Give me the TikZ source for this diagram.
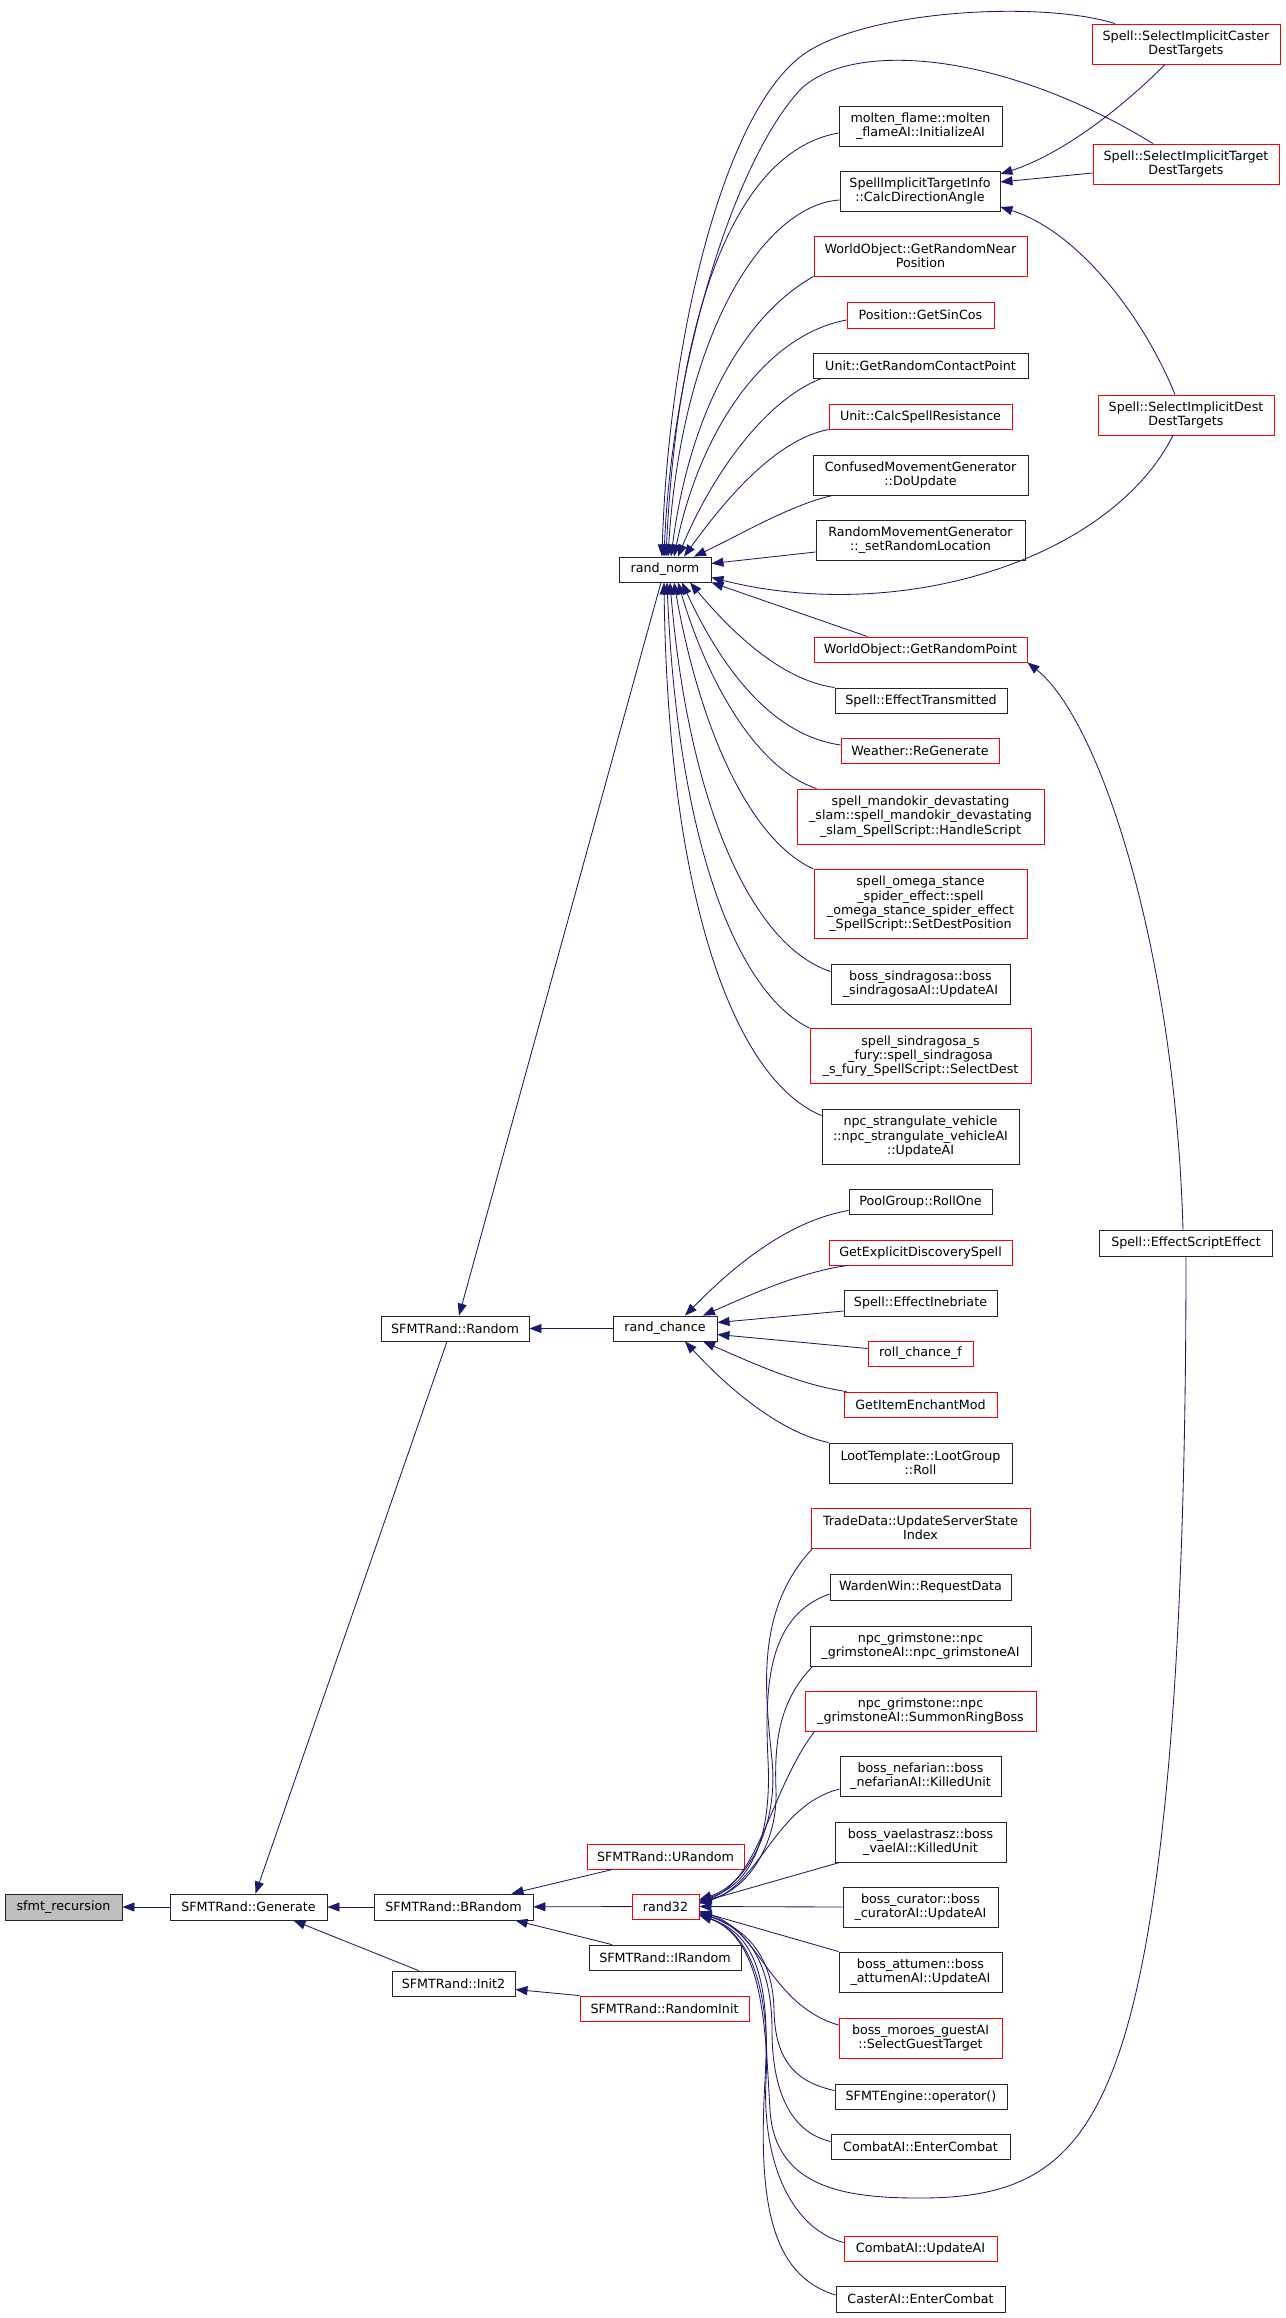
\documentclass[tikz,border=0pt]{standalone}
\usepackage{fontspec}
\newfontfamily\dox{DejaVu Sans}
\usepackage{tikz}
\usetikzlibrary{arrows.meta}
\definecolor{edgeblue}{HTML}{191970}
\definecolor{rootgray}{HTML}{BFBFBF}

\begin{document}
\begin{tikzpicture}[x=1pt, y=-1pt, >={Triangle[length=12pt,width=9pt]},
    fn/.style={draw=black!85, line width=0.9pt, fill=white, align=center, inner sep=1pt,
        font=\dox\fontsize{12.7pt}{14.3pt}\selectfont},
    nodoc/.style={fn, draw=red},
    call/.style={<-, draw=edgeblue, line width=0.85pt}]
    \useasboundingbox (0,0) rectangle (1285,2318);

    \node[fn, fill=rootgray, minimum width=117pt, minimum height=26pt] (recursion) at (63.5,1907) {sfmt\_recursion};
    \node[fn, minimum width=157pt, minimum height=26pt] (generate) at (248.5,1907) {SFMTRand::Generate};
    \node[fn, minimum width=159pt, minimum height=26pt] (brandom) at (453.5,1907) {SFMTRand::BRandom};
    \node[fn, minimum width=123pt, minimum height=25pt] (init2) at (453.5,1983.5) {SFMTRand::Init2};
    \node[fn, minimum width=148pt, minimum height=25pt] (random) at (455,1328.5) {SFMTRand::Random};

    \node[nodoc, minimum width=157pt, minimum height=25pt] (urandom) at (665.5,1856.5) {SFMTRand::URandom};
    \node[nodoc, minimum width=67pt, minimum height=25pt] (rand32) at (665.5,1906.5) {rand32};
    \node[fn, minimum width=152pt, minimum height=25pt] (irandom) at (665,1957.5) {SFMTRand::IRandom};
    \node[nodoc, minimum width=169pt, minimum height=25pt] (randominit) at (664.5,2008.5) {SFMTRand::RandomInit};
    \node[fn, minimum width=92pt, minimum height=25pt] (randnorm) at (665,569.5) {rand\_norm};
    \node[fn, minimum width=104pt, minimum height=25pt] (randchance) at (665,1328.5) {rand\_chance};

    \node[nodoc, minimum width=188pt, minimum height=40pt] (caster) at (1186,44) {Spell::SelectImplicitCaster\\DestTargets};
    \node[nodoc, minimum width=186pt, minimum height=40pt] (targetdest) at (1186,164) {Spell::SelectImplicitTarget\\DestTargets};
    \node[nodoc, minimum width=176pt, minimum height=40pt] (destdest) at (1186,415) {Spell::SelectImplicitDest\\DestTargets};
    \node[fn, minimum width=173pt, minimum height=26pt] (scripteffect) at (1186,1243) {Spell::EffectScriptEffect};

    \node[fn, minimum width=163pt, minimum height=40pt] (molten) at (920.5,126) {molten\_flame::molten\\\_flameAI::InitializeAI};
    \node[fn, minimum width=160pt, minimum height=40pt] (calcdir) at (920,191) {SpellImplicitTargetInfo\\::CalcDirectionAngle};
    \node[nodoc, minimum width=213pt, minimum height=40pt] (nearpos) at (920.5,256) {WorldObject::GetRandomNear\\Position};
    \node[nodoc, minimum width=147pt, minimum height=26pt] (sincos) at (920.5,315) {Position::GetSinCos};
    \node[fn, minimum width=215pt, minimum height=25pt] (contact) at (920.5,365.5) {Unit::GetRandomContactPoint};
    \node[nodoc, minimum width=183pt, minimum height=25pt] (resist) at (920.5,416.5) {Unit::CalcSpellResistance};
    \node[fn, minimum width=215pt, minimum height=40pt] (confused) at (920.5,475) {ConfusedMovementGenerator\\::DoUpdate};
    \node[fn, minimum width=209pt, minimum height=40pt] (randmove) at (920.5,540) {RandomMovementGenerator\\::\_setRandomLocation};
    \node[nodoc, minimum width=213pt, minimum height=25pt] (randpoint) at (920.5,649.5) {WorldObject::GetRandomPoint};
    \node[fn, minimum width=172pt, minimum height=25pt] (transmitted) at (921,700.5) {Spell::EffectTransmitted};
    \node[nodoc, minimum width=158pt, minimum height=25pt] (regenerate) at (920,751) {Weather::ReGenerate};
    \node[nodoc, minimum width=247pt, minimum height=55pt] (mandokir) at (920.5,816.5) {spell\_mandokir\_devastating\\\_slam::spell\_mandokir\_devastating\\\_slam\_SpellScript::HandleScript};
    \node[nodoc, minimum width=213pt, minimum height=69pt] (omega) at (920.5,904) {spell\_omega\_stance\\\_spider\_effect::spell\\\_omega\_stance\_spider\_effect\\\_SpellScript::SetDestPosition};
    \node[fn, minimum width=179pt, minimum height=40pt] (sindragosa) at (920.5,984.5) {boss\_sindragosa::boss\\\_sindragosaAI::UpdateAI};
    \node[nodoc, minimum width=221pt, minimum height=55pt] (sindrafury) at (920.5,1056) {spell\_sindragosa\_s\\\_fury::spell\_sindragosa\\\_s\_fury\_SpellScript::SelectDest};
    \node[fn, minimum width=197pt, minimum height=55pt] (strangulate) at (920.5,1136.5) {npc\_strangulate\_vehicle\\::npc\_strangulate\_vehicleAI\\::UpdateAI};

    \node[fn, minimum width=143pt, minimum height=25pt] (pool) at (920.5,1201.5) {PoolGroup::RollOne};
    \node[nodoc, minimum width=183pt, minimum height=25pt] (discovery) at (920.5,1252.5) {GetExplicitDiscoverySpell};
    \node[fn, minimum width=153pt, minimum height=26pt] (inebriate) at (920.5,1303) {Spell::EffectInebriate};
    \node[nodoc, minimum width=105pt, minimum height=25pt] (rollf) at (920.5,1353.5) {roll\_chance\_f};
    \node[nodoc, minimum width=153pt, minimum height=25pt] (enchant) at (920.5,1404.5) {GetItemEnchantMod};
    \node[fn, minimum width=183pt, minimum height=40pt] (lootroll) at (920.5,1463) {LootTemplate::LootGroup\\::Roll};

    \node[nodoc, minimum width=219pt, minimum height=40pt] (tradedata) at (920.5,1528) {TradeData::UpdateServerState\\Index};
    \node[fn, minimum width=181pt, minimum height=26pt] (warden) at (920.5,1587) {WardenWin::RequestData};
    \node[fn, minimum width=221pt, minimum height=40pt] (grimstoneai) at (920.5,1646) {npc\_grimstone::npc\\\_grimstoneAI::npc\_grimstoneAI};
    \node[nodoc, minimum width=231pt, minimum height=40pt] (ringboss) at (920.5,1711) {npc\_grimstone::npc\\\_grimstoneAI::SummonRingBoss};
    \node[fn, minimum width=161pt, minimum height=40pt] (nefarian) at (920.5,1776) {boss\_nefarian::boss\\\_nefarianAI::KilledUnit};
    \node[fn, minimum width=171pt, minimum height=40pt] (vaelastrasz) at (920.5,1842) {boss\_vaelastrasz::boss\\\_vaelAI::KilledUnit};
    \node[fn, minimum width=155pt, minimum height=40pt] (curator) at (920.5,1907) {boss\_curator::boss\\\_curatorAI::UpdateAI};
    \node[fn, minimum width=163pt, minimum height=40pt] (attumen) at (920.5,1972) {boss\_attumen::boss\\\_attumenAI::UpdateAI};
    \node[nodoc, minimum width=163pt, minimum height=40pt] (moroes) at (920.5,2038) {boss\_moroes\_guestAI\\::SelectGuestTarget};
    \node[fn, minimum width=172pt, minimum height=25pt] (sfmtengine) at (921,2096.5) {SFMTEngine::operator()};
    \node[fn, minimum width=179pt, minimum height=25pt] (combatenter) at (920.5,2146.5) {CombatAI::EnterCombat};
    \node[nodoc, minimum width=153pt, minimum height=25pt] (combatupdate) at (920.5,2248.5) {CombatAI::UpdateAI};
    \node[fn, minimum width=169pt, minimum height=26pt] (casterenter) at (920.5,2299) {CasterAI::EnterCombat};

    \draw[call] (recursion) -- (generate);
    \draw[call] (generate) -- (brandom);
    \draw[call] ([xshift=45pt]generate.south) -- ([xshift=-35pt]init2.north);
    \draw[call] ([xshift=7pt]generate.north) -- ([xshift=-8pt]random.south);
    \draw[call] ([xshift=58pt]brandom.north) -- ([xshift=-53pt]urandom.south);
    \draw[call] (brandom) -- (rand32);
    \draw[call] ([xshift=62pt]brandom.south) -- ([xshift=-53pt]irandom.north);
    \draw[call] ([yshift=-6pt]init2.east) -- (randominit.north west);
    \draw[call] ([xshift=4pt]random.north) -- ([xshift=-4pt]randnorm.south);
    \draw[call] (random) -- (randchance);

    \draw[call] ([xshift=-3pt]randnorm.north) .. controls (668,350) and (720,120) .. (800,57)
        .. controls (860,10) and (1040,0) .. ([xshift=-71pt]caster.north);
    \draw[call] ([xshift=-1pt]randnorm.north) .. controls (672,360) and (735,160) .. (800,90)
        .. controls (850,40) and (1000,50) .. ([xshift=-33pt]targetdest.north);
    \draw[call] ([xshift=1pt]randnorm.north) .. controls (678,300) and (740,150) .. ([yshift=-7pt]molten.west);
    \draw[call] ([xshift=3pt]randnorm.north) .. controls (682,330) and (765,205) .. ([yshift=-9pt]calcdir.west);
    \draw[call] ([xshift=6pt]randnorm.north) .. controls (690,410) and (745,315) .. (nearpos.south west);
    \draw[call] ([xshift=9pt]randnorm.north) .. controls (700,430) and (765,335) .. ([yshift=-5pt]sincos.west);
    \draw[call] ([xshift=13pt]randnorm.north) .. controls (712,475) and (765,400) .. ([xshift=9pt]contact.south west);
    \draw[call] ([xshift=19pt]randnorm.north) .. controls (725,500) and (775,440) .. (resist.south west);
    \draw[call] ([xshift=29pt]randnorm.north) .. controls (740,535) and (790,505) .. ([xshift=20pt]confused.south west);
    \draw[call] ([yshift=6pt]randnorm.east) -- ([yshift=-12pt]randmove.west);
    \draw[call] ([yshift=-8pt]randnorm.east) .. controls (900,625) and (1110,560) .. ([xshift=-13pt]destdest.south);
    \draw[call] (randnorm.south east) -- ([xshift=-53pt]randpoint.north);

    \draw[call] ([xshift=25pt]randnorm.south) .. controls (730,630) and (780,680) .. (transmitted.north west);
    \draw[call] ([xshift=17pt]randnorm.south) .. controls (720,665) and (770,735) .. ([yshift=6pt]regenerate.west);
    \draw[call] ([xshift=13pt]randnorm.south) .. controls (710,690) and (760,770) .. ([xshift=20pt]mandokir.north west);
    \draw[call] ([xshift=9pt]randnorm.south) .. controls (700,730) and (750,840) .. (omega.north west);
    \draw[call] ([xshift=5pt]randnorm.south) .. controls (688,800) and (750,945) .. ([yshift=13pt]sindragosa.west);
    \draw[call] ([xshift=2pt]randnorm.south) .. controls (678,850) and (740,995) .. (sindrafury.north west);
    \draw[call] ([xshift=-1pt]randnorm.south) .. controls (668,900) and (735,1080) .. ([yshift=21pt]strangulate.west);

    \draw[call] ([yshift=17pt]calcdir.east) .. controls (1060,155) and (1120,110) .. ([xshift=-21pt]caster.south);
    \draw[call] ([yshift=9pt]calcdir.east) -- ([yshift=-9pt]targetdest.west);
    \draw[call] ([yshift=-16pt]calcdir.east) .. controls (1080,232) and (1145,320) .. ([xshift=-11pt]destdest.north);
    \draw[call] (randpoint.south east) .. controls (1100,720) and (1175,950) .. ([xshift=-3pt]scripteffect.north);

    \draw[call] ([xshift=20pt]randchance.north) .. controls (720,1280) and (780,1222) .. ([yshift=-9pt]pool.west);
    \draw[call] ([xshift=38pt]randchance.north) .. controls (750,1295) and (800,1272) .. ([xshift=19pt]discovery.south west);
    \draw[call] ([yshift=6pt]randchance.east) -- ([yshift=-8pt]inebriate.west);
    \draw[call] ([yshift=-6pt]randchance.east) -- ([yshift=5pt]rollf.west);
    \draw[call] ([xshift=38pt]randchance.south) .. controls (750,1362) and (800,1385) .. ([xshift=3pt]enchant.north west);
    \draw[call] ([xshift=20pt]randchance.south) .. controls (730,1390) and (780,1432) .. (lootroll.north west);

    \draw[call] ([yshift=7pt]rand32.east) .. controls (745,1885) and (779,1830) .. (772,1760)
        .. controls (765,1690) and (755,1610) .. ([xshift=2pt]tradedata.south west);
    \draw[call] ([yshift=6pt]rand32.east) .. controls (750,1885) and (772,1840) .. (768,1760)
        .. controls (764,1680) and (770,1615) .. ([yshift=-7pt]warden.west);
    \draw[call] ([yshift=5pt]rand32.east) .. controls (750,1890) and (778,1840) .. (776,1790)
        .. controls (774,1740) and (780,1700) .. ([xshift=3pt]grimstoneai.south west);
    \draw[call] ([yshift=4pt]rand32.east) .. controls (760,1880) and (770,1790) .. ([xshift=10pt]ringboss.south west);
    \draw[call] ([yshift=3pt]rand32.east) .. controls (760,1885) and (775,1805) .. ([yshift=-13pt]nefarian.west);
    \draw[call] ([yshift=4pt]rand32.east) -- ([xshift=5pt]vaelastrasz.south west);
    \draw[call] (rand32.east) -- (curator.west);
    \draw[call] ([yshift=-5pt]rand32.east) -- (attumen.north west);
    \draw[call] ([yshift=-5pt]rand32.east) .. controls (760,1930) and (770,2005) .. ([yshift=13pt]moroes.west);
    \draw[call] ([yshift=-6pt]rand32.east) .. controls (750,1930) and (773,1960) .. (774,2010)
        .. controls (775,2060) and (795,2082) .. ([yshift=6pt]sfmtengine.west);
    \draw[call] ([yshift=-7pt]rand32.east) .. controls (752,1930) and (772,1970) .. (772,2030)
        .. controls (772,2090) and (790,2132) .. ([yshift=5pt]combatenter.west);
    \draw[call] ([yshift=-8pt]rand32.east) .. controls (765,1940) and (765,2030) .. (770,2110)
        .. controls (775,2190) and (850,2198) .. (920,2198)
        .. controls (1020,2198) and (1080,2170) .. (1120,2050)
        .. controls (1170,1900) and (1186,1600) .. (scripteffect.south);
    \draw[call] ([yshift=-8pt]rand32.east) .. controls (755,1935) and (770,2000) .. (766,2080)
        .. controls (762,2160) and (790,2228) .. ([yshift=6pt]combatupdate.west);
    \draw[call] ([yshift=-9pt]rand32.east) .. controls (760,1935) and (770,1990) .. (765,2080)
        .. controls (758,2200) and (770,2275) .. ([yshift=4pt]casterenter.west);
\end{tikzpicture}
\end{document}
